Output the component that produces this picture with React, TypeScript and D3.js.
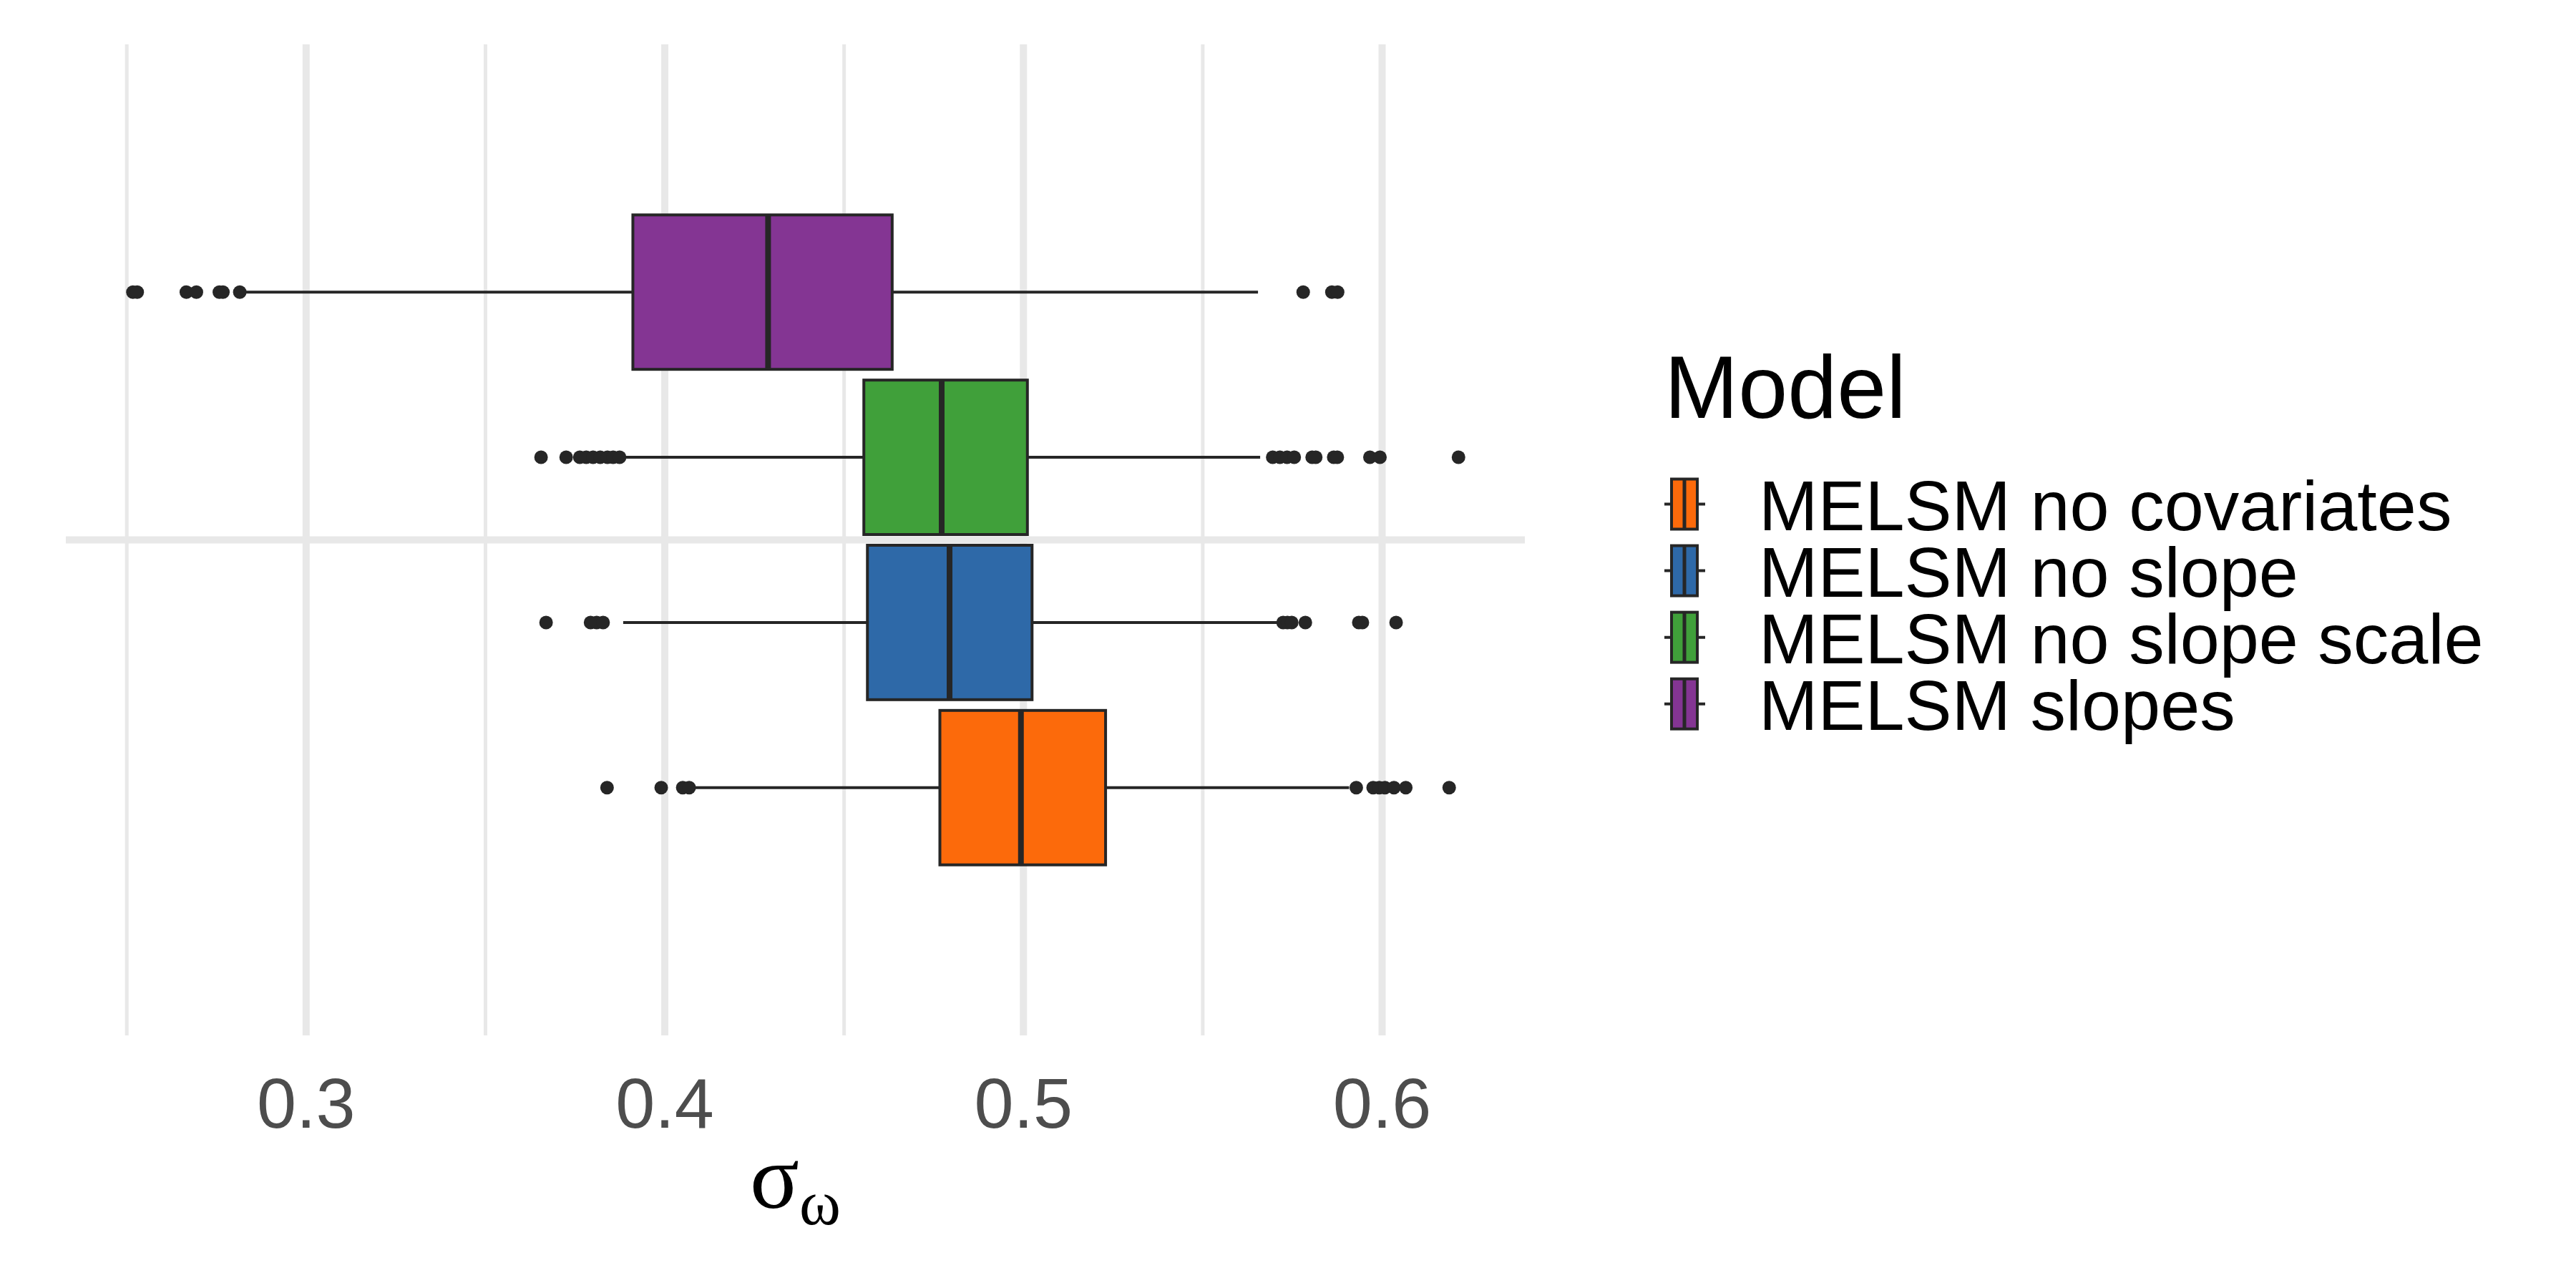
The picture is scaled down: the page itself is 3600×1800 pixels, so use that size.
import React, { useRef, useEffect } from 'react';
import * as d3 from 'd3';

const W = 3600;
const H = 1800;
const PANEL = { left: 92, right: 2131, top: 62, bottom: 1447 };

// bottom to top (first level sits lowest)
const models = ['MELSM no covariates', 'MELSM no slope', 'MELSM no slope scale', 'MELSM slopes'];
const fills = ['#FC6A0B', '#2E69A8', '#40A03A', '#843593'];

const q1 = [0.4767, 0.4565, 0.4555, 0.3911];
const medians = [0.4993, 0.4794, 0.4772, 0.4288];
const q3 = [0.5229, 0.5024, 0.5011, 0.4634];
const whiskerLo = [0.4075, 0.3884, 0.389, 0.2828];
const whiskerHi = [0.5908, 0.5707, 0.566, 0.5654];

const outliers = [
    [0.3839, 0.399, 0.405, 0.4068, 0.5928, 0.5975, 0.5992, 0.6008, 0.6033, 0.6066, 0.6187],
    [0.3669, 0.3793, 0.381, 0.3828, 0.5724, 0.5736, 0.5748, 0.5786, 0.5935, 0.5945, 0.6039],
    [0.3655, 0.3725, 0.3763, 0.3781, 0.38, 0.382, 0.384, 0.3856, 0.3874,
        0.5695, 0.5715, 0.5735, 0.5755, 0.5805, 0.5815, 0.5865, 0.5875, 0.5966, 0.5994, 0.6213],
    [0.2517, 0.2529, 0.2666, 0.2694, 0.2758, 0.2768, 0.2815, 0.578, 0.586, 0.5876],
];

const majorTicks = [0.3, 0.4, 0.5, 0.6];
const minorTicks = [0.25, 0.35, 0.45, 0.55];
const xDomain = [0.233, 0.6398];

const GRID = '#E8E8E8';
const INK = '#262626';

export default function App() {
    const svgRef = useRef<SVGSVGElement>(null);

    useEffect(() => {
        const svg = d3.select(svgRef.current);
        svg.selectAll('*').remove();

        const x = d3.scaleLinear().domain(xDomain).range([PANEL.left, PANEL.right]);
        // single discrete category at 1, expanded by 0.6 each side
        const y = d3.scaleLinear().domain([0.4, 1.6]).range([PANEL.bottom, PANEL.top]);
        const slot = 0.2;
        const boxW = 0.187;
        const yc = (i: number) => y(1 + (i - 1.5) * slot);
        const halfH = (y(0) - y(boxW)) / 2;

        svg.append('rect').attr('width', W).attr('height', H).attr('fill', '#fff');

        const g = svg.append('g');

        // grid
        g.selectAll('line.minor')
            .data(minorTicks)
            .join('line')
            .attr('class', 'minor')
            .attr('x1', d => x(d)).attr('x2', d => x(d))
            .attr('y1', PANEL.top).attr('y2', PANEL.bottom)
            .attr('stroke', GRID).attr('stroke-width', 5);

        g.selectAll('line.major')
            .data(majorTicks)
            .join('line')
            .attr('class', 'major')
            .attr('x1', d => x(d)).attr('x2', d => x(d))
            .attr('y1', PANEL.top).attr('y2', PANEL.bottom)
            .attr('stroke', GRID).attr('stroke-width', 10);

        g.append('line')
            .attr('x1', PANEL.left).attr('x2', PANEL.right)
            .attr('y1', y(1)).attr('y2', y(1))
            .attr('stroke', GRID).attr('stroke-width', 10);

        // boxplots
        models.forEach((m, i) => {
            const cy = yc(i);
            const bg = g.append('g');

            bg.append('line')
                .attr('x1', x(whiskerLo[i])).attr('x2', x(q1[i]))
                .attr('y1', cy).attr('y2', cy)
                .attr('stroke', INK).attr('stroke-width', 4);
            bg.append('line')
                .attr('x1', x(q3[i])).attr('x2', x(whiskerHi[i]))
                .attr('y1', cy).attr('y2', cy)
                .attr('stroke', INK).attr('stroke-width', 4);

            bg.append('rect')
                .attr('x', x(q1[i]))
                .attr('y', cy - halfH)
                .attr('width', x(q3[i]) - x(q1[i]))
                .attr('height', halfH * 2)
                .attr('fill', fills[i])
                .attr('stroke', INK).attr('stroke-width', 4);

            bg.append('line')
                .attr('x1', x(medians[i])).attr('x2', x(medians[i]))
                .attr('y1', cy - halfH).attr('y2', cy + halfH)
                .attr('stroke', INK).attr('stroke-width', 8);

            bg.selectAll('circle')
                .data(outliers[i])
                .join('circle')
                .attr('cx', d => x(d))
                .attr('cy', cy)
                .attr('r', 9.5)
                .attr('fill', INK);
        });

        // x axis labels
        g.selectAll('text.tick')
            .data(majorTicks)
            .join('text')
            .attr('class', 'tick')
            .attr('x', d => x(d))
            .attr('y', 1576)
            .attr('text-anchor', 'middle')
            .attr('font-family', '"Liberation Sans", Arial, sans-serif')
            .attr('font-size', 99)
            .attr('fill', '#4D4D4D')
            .text(d => d3.format('.1f')(d));

        // axis title sigma_omega
        const title = g.append('text')
            .attr('x', (PANEL.left + PANEL.right) / 2)
            .attr('y', 1688)
            .attr('text-anchor', 'middle')
            .attr('font-family', '"Liberation Serif", "Times New Roman", serif')
            .attr('font-size', 128)
            .attr('fill', '#000');
        title.append('tspan').text('σ');
        title.append('tspan').attr('font-size', 88).attr('dy', 23).text('ω');

        // legend
        const lg = svg.append('g');
        lg.append('text')
            .attr('x', 2326).attr('y', 584)
            .attr('font-family', '"Liberation Sans", Arial, sans-serif')
            .attr('font-size', 124)
            .attr('fill', '#000')
            .text('Model');

        const rowY = d3.scaleLinear().domain([0, 3]).range([704.5, 983.7]);
        const order = [0, 1, 2, 3];
        order.forEach((i, k) => {
            const cy = rowY(k);
            const kx = 2354;
            const key = lg.append('g');
            key.append('line')
                .attr('x1', kx - 28).attr('x2', kx + 29)
                .attr('y1', cy).attr('y2', cy)
                .attr('stroke', INK).attr('stroke-width', 4);
            key.append('rect')
                .attr('x', kx - 18).attr('y', cy - 35)
                .attr('width', 36).attr('height', 70)
                .attr('fill', fills[i])
                .attr('stroke', INK).attr('stroke-width', 4);
            key.append('line')
                .attr('x1', kx).attr('x2', kx)
                .attr('y1', cy - 35).attr('y2', cy + 35)
                .attr('stroke', INK).attr('stroke-width', 5);
            lg.append('text')
                .attr('x', 2458).attr('y', cy + 36)
                .attr('font-family', '"Liberation Sans", Arial, sans-serif')
                .attr('font-size', 99)
                .attr('fill', '#000')
                .text(models[i]);
        });
    }, []);

    return (
        <svg
            ref={svgRef}
            width={W}
            height={H}
            style={{ position: 'absolute', left: 0, top: 0, display: 'block' }}
        />
    );
}
